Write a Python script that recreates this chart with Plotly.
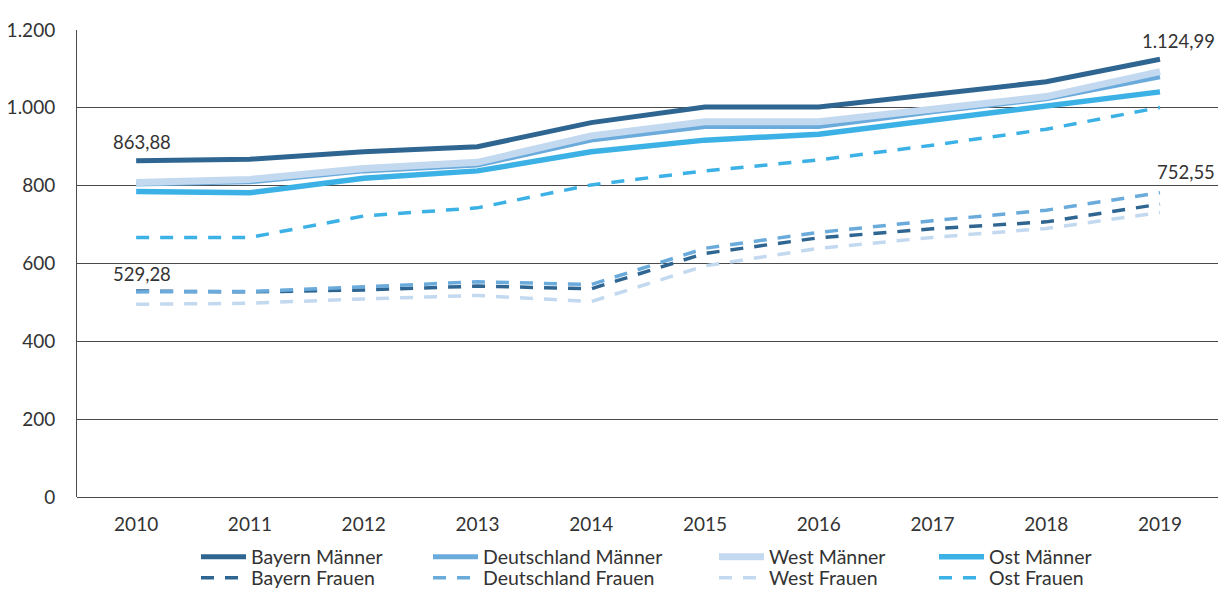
import plotly.graph_objects as go

# Jahre und Werte
years = ["2010", "2011", "2012", "2013", "2014", "2015", "2016", "2017", "2018", "2019"]

bayern_m = [863.88, 868, 887, 900, 962, 1002, 1002, 1035, 1067, 1124.99]
deutschland_m = [804, 810, 838, 853, 917, 952, 952, 990, 1023, 1080]
west_m = [808, 816, 844, 860, 928, 964, 964, 996, 1029, 1093]
ost_m = [785, 782, 819, 838, 887, 917, 932, 969, 1003, 1041]

bayern_f = [529.28, 527, 532, 542, 535, 626, 666, 689, 707, 752.55]
deutschland_f = [527, 528, 540, 553, 546, 639, 680, 710, 737, 782]
west_f = [495, 498, 509, 518, 502, 594, 639, 667, 690, 731]
ost_f = [667, 667, 722, 743, 802, 838, 866, 904, 945, 1001]

FONT = "Lato"
TXT = "#333333"
c_bayern = "#2f6591"
c_de = "#6aabdc"
c_west = "#c3d9f0"
c_ost = "#3cb1e6"

W, H = 1220, 590
L, R, T, B = 77, 2, 30, 93
PW, PH = W - L - R, H - T - B

fig = go.Figure()

# name, werte, farbe, breite, strich
series = [
    ("Bayern Männer", bayern_m, c_bayern, 5, "solid"),
    ("Deutschland Männer", deutschland_m, c_de, 5, "solid"),
    ("West Männer", west_m, c_west, 7, "solid"),
    ("Ost Männer", ost_m, c_ost, 5.5, "solid"),
    ("Bayern Frauen", bayern_f, c_bayern, 3.5, "13px,11px"),
    ("Deutschland Frauen", deutschland_f, c_de, 3.5, "13px,11px"),
    ("West Frauen", west_f, c_west, 3.5, "13px,11px"),
    ("Ost Frauen", ost_f, c_ost, 3.5, "13px,11px"),
]

# eine Legende pro Eintrag, damit die Spalten wie im Original sitzen
col_x = [196, 428, 714, 934]
row_y = [557, 578]
legends = {}

for i, (name, vals, col, w, dash) in enumerate(series):
    key = "legend%d" % (i + 2)
    fig.add_trace(go.Scatter(
        x=years, y=vals, name=name, mode="lines",
        line=dict(color=col, width=w, dash=dash),
        legend=key,
    ))
    legends[key] = dict(
        orientation="v", xanchor="left", yanchor="middle",
        x=(col_x[i % 4] - L) / PW, y=(T + PH - row_y[i // 4]) / PH,
        bgcolor="rgba(0,0,0,0)", itemwidth=45,
        font=dict(family=FONT, size=19.5, color=TXT),
    )

# Beschriftungen (x als Kategorie-Index)
labels = [
    (0, bayern_m[0], "863,88", "center", "bottom", 6, 6),
    (0, bayern_f[0], "529,28", "center", "bottom", 6, 4),
    (9, bayern_m[-1], "1.124,99", "right", "bottom", 57, 5),
    (9, bayern_f[-1], "752,55", "right", "middle", 57, 32),
]
for x, y, t, xa, ya, xs, ys in labels:
    fig.add_annotation(x=x, y=y, text=t, showarrow=False, xanchor=xa, yanchor=ya,
                       xshift=xs, yshift=ys, font=dict(family=FONT, size=18.5, color=TXT))

fig.update_layout(
    width=W, height=H,
    margin=dict(l=L, r=R, t=T, b=B, autoexpand=False),
    plot_bgcolor="white", paper_bgcolor="white",
    separators=",.",
    font=dict(family=FONT, size=20, color=TXT),
    xaxis=dict(type="category", range=[-0.52, 9.51], showgrid=False,
               showline=False, ticks="", ticklabelstandoff=14, automargin=False,
               tickfont=dict(family=FONT, size=19, color=TXT)),
    yaxis=dict(range=[0, 1200], dtick=200, tickformat=",d",
               showgrid=True, gridcolor="#4a4a4a", gridwidth=1,
               showline=True, linecolor="#4a4a4a", linewidth=1,
               zeroline=True, zerolinecolor="#4a4a4a", zerolinewidth=1,
               ticks="", ticklabelstandoff=17, automargin=False,
               tickfont=dict(family=FONT, size=19, color=TXT)),
    **legends,
)

# Seitenrand des body entfernen, damit die Grafik bei 0,0 beginnt
fig.write_html("out.html", config={"displayModeBar": False},
               post_script="document.body.style.margin='0';document.body.style.overflow='hidden';")
